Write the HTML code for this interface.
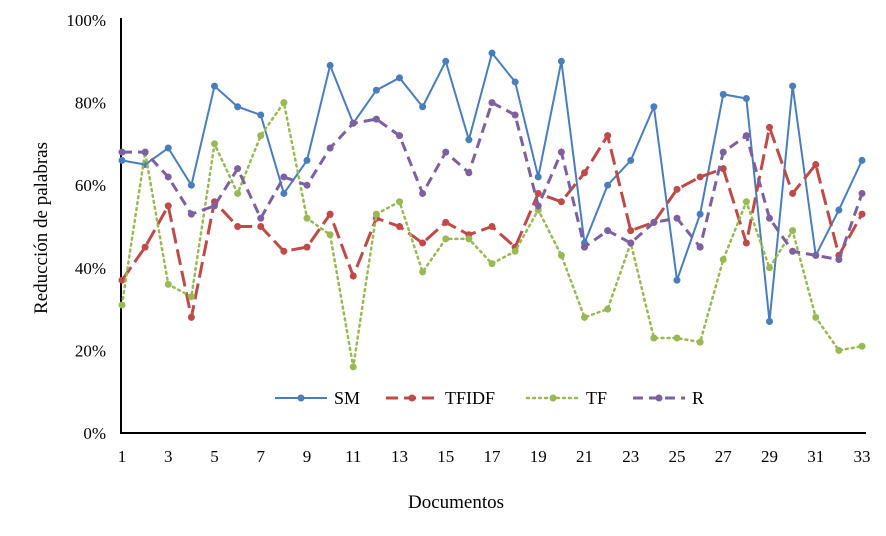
<!DOCTYPE html>
<html><head><meta charset="utf-8"><style>
body{margin:0;background:#fff;}
svg text{font-family:"Liberation Serif",serif;fill:#000;}
</style></head><body>
<svg width="886" height="531" id="c"></svg>
<script>
const docs=[];for(let i=1;i<=33;i++)docs.push(i);
const sm=[66,65,69,60,84,79,77,58,66,89,75,83,86,79,90,71,92,85,62,90,46,60,66,79,37,53,82,81,27,84,43,54,66];
const tfidf=[37,45,55,28,56,50,50,44,45,53,38,52,50,46,51,48,50,45,58,56,63,72,49,51,59,62,64,46,74,58,65,43,53];
const tf=[31,68,36,33,70,58,72,80,52,48,16,53,56,39,47,47,41,44,54,43,28,30,46,23,23,22,42,56,40,49,28,20,21];
const r=[68,68,62,53,55,64,52,62,60,69,75,76,72,58,68,63,80,77,55,68,45,49,46,51,52,45,68,72,52,44,43,42,58];
const yTicks=[0,20,40,60,80,100];
const xTickLabels=[1,3,5,7,9,11,13,15,17,19,21,23,25,27,29,31,33];
const series=[
 {name:'SM',v:sm,c:'#4a7ebb',d:''},
 {name:'TFIDF',v:tfidf,c:'#be4b48',d:'16 6'},
 {name:'TF',v:tf,c:'#98b954',d:'2 4'},
 {name:'R',v:r,c:'#7d60a0',d:'10 6'}];
const NS='http://www.w3.org/2000/svg',svg=document.getElementById('c');
const X=d=>122+(d-1)*23.125, Y=v=>433-v*4.13;
function mk(t,a,p){const e=document.createElementNS(NS,t);for(const k in a)e.setAttribute(k,a[k]);(p||svg).appendChild(e);return e;}
let e;
e=mk('line',{x1:121,y1:18,x2:121,y2:434,stroke:'#000','stroke-width':2});


e=mk('line',{x1:120,y1:433,x2:866,y2:433,stroke:'#000','stroke-width':2});


yTicks.forEach(t=>{e=mk('text',{x:106,y:Y(t)+6,'text-anchor':'end','font-size':17});e.textContent=t+'%';

});
xTickLabels.forEach(t=>{e=mk('text',{x:X(t),y:462,'text-anchor':'middle','font-size':17});e.textContent=t;

});
e=mk('text',{x:456,y:508,'text-anchor':'middle','font-size':19});e.textContent='Documentos';


e=mk('text',{x:0,y:0,'text-anchor':'middle','font-size':19,transform:'translate(47,228) rotate(-90)'});e.textContent='Reducción de palabras';


series.forEach(s=>{
 const g=mk('g',{});
 
 
 const a={points:s.v.map((v,i)=>X(docs[i])+','+Y(v)).join(' '),fill:'none',stroke:s.c,'stroke-width':s.d==='2 4'?2.5:(s.d?3:2)};
 if(s.d){a['stroke-dasharray']=s.d;if(s.d==='2 4')a['stroke-linecap']='round';}
 mk('polyline',a,g);
 s.v.forEach((v,i)=>{const p=mk('circle',{cx:X(docs[i]),cy:Y(v),r:3.5,fill:s.c},g);
 
 });
});
const lx=[275,386,527,633],lt=['SM','TFIDF','TF','R'];
series.forEach((s,i)=>{const g=mk('g',{});
 
 
 const a={x1:lx[i],y1:398,x2:lx[i]+52,y2:398,stroke:s.c,'stroke-width':s.d==='2 4'?2.5:(s.d?3:2)};
 if(s.d){a['stroke-dasharray']=s.d==='16 6'?'12 6':s.d;if(s.d==='2 4')a['stroke-linecap']='round';}
 mk('line',a,g);mk('circle',{cx:lx[i]+26,cy:398,r:3.5,fill:s.c},g);
 const t=mk('text',{x:lx[i]+59,y:404,'font-size':18},g);t.textContent=lt[i];});
</script>
</body></html>
